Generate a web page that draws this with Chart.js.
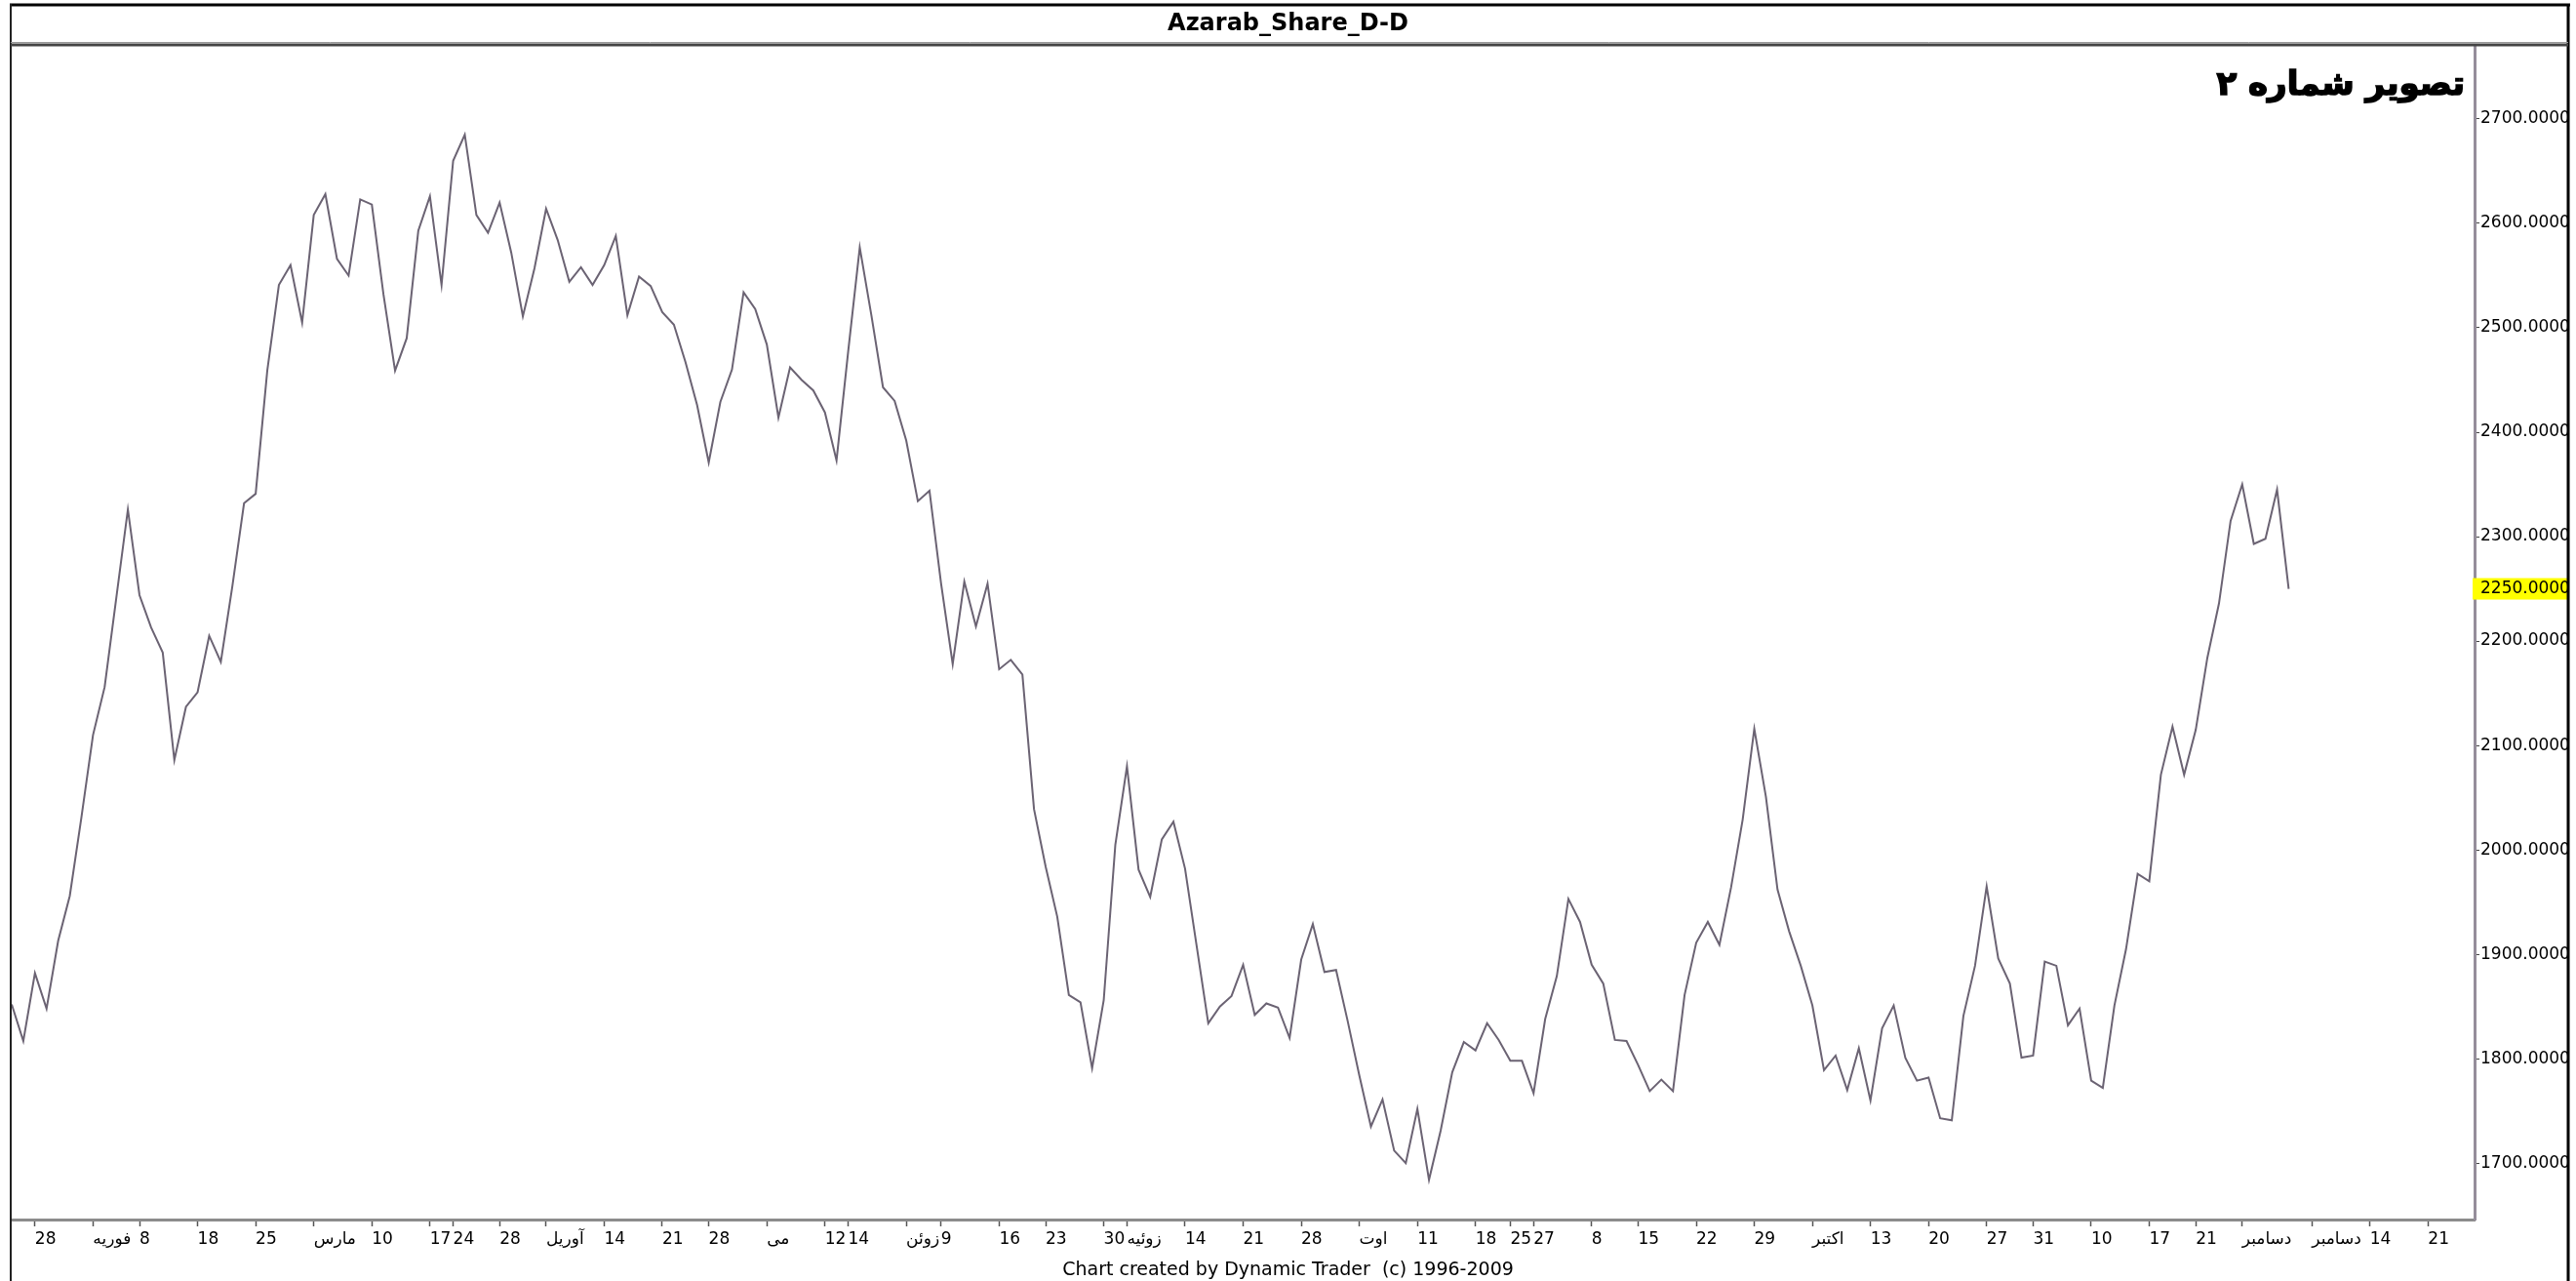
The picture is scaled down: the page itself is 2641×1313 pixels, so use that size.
<!DOCTYPE html>
<html><head><meta charset="utf-8">
<script src="https://cdn.jsdelivr.net/npm/chart.js@4.4.1/dist/chart.umd.min.js"></script>
<style>html,body{margin:0;padding:0;background:#fff;}#wrap{width:2641px;height:1313px;}</style>
</head><body><div id="wrap"><canvas id="c" width="2641" height="1313"></canvas></div>
<script>
const closes = [
1852,1817,1882,1848,1913,1956,2031,2110,2156,2241,
2326,2244,2213,2189,2086,2137,2151,2205,2180,2253,
2332,2341,2459,2541,2560,2505,2608,2628,2566,2550,
2623,2618,2532,2459,2490,2593,2626,2541,2660,2685,
2608,2591,2620,2572,2511,2557,2614,2584,2544,2558,
2541,2560,2588,2512,2549,2540,2515,2503,2467,2426,
2371,2429,2460,2534,2518,2484,2414,2462,2450,2440,
2419,2373,2477,2577,2512,2443,2430,2392,2334,2344,
2255,2178,2257,2214,2255,2173,2182,2168,2039,1984,
1936,1861,1854,1791,1856,2005,2080,1981,1955,2010,
2027,1982,1908,1834,1850,1860,1890,1842,1853,1849,
1820,1895,1929,1883,1885,1836,1784,1735,1761,1712,
1700,1752,1684,1731,1787,1816,1808,1834,1818,1798,
1798,1767,1838,1879,1953,1931,1890,1872,1818,1817,
1794,1769,1780,1769,1861,1911,1931,1909,1964,2029,
2116,2051,1962,1922,1889,1851,1789,1803,1770,1810,
1760,1829,1851,1801,1779,1782,1743,1741,1841,1889,
1965,1896,1872,1801,1803,1893,1889,1832,1848,1779,
1772,1851,1905,1977,1970,2072,2118,2072,2115,2184,
2236,2315,2350,2293,2298,2345,2250
];
const xTickPos = [2,7,11,16,21,26,31,36,38,42,46,51,56,60,65,70,72,77,80,85,89,94,96,101,106,111,116,121,126,129,131,136,140,145,150,155,160,165,170,174,179,184,188,192,198,203,208];
const xTickLabels = ['28','فوریه','8','18','25','مارس','10','17','24','28','آوریل','14','21','28','می','12','14','زوئن','9','16','23','30','زوئیه','14','21','28','اوت','11','18','25','27','8','15','22','29','اکتبر','13','20','27','31','10','17','21','دسامبر','دسامبر','14','21'];
const yTicks = [1700,1800,1900,2000,2100,2200,2300,2400,2500,2600,2700];
const chartTitle = 'Azarab_Share_D-D';
const footerText = 'Chart created by Dynamic Trader  (c) 1996-2009';
const captionText = 'تصویر شماره ۲';
const lastValue = closes[closes.length - 1];

const framePlugin = {
  id: 'frame',
  afterDraw(chart) {
    const ctx = chart.ctx;
    const ys = chart.scales.y;
    ctx.save();
    const py = ys.getPixelForValue(lastValue);
    ctx.fillStyle = '#ffff00';
    ctx.fillRect(ys.left - 2, py - 11, 2632 - ys.left + 2, 22);
    ctx.fillStyle = '#000';
    ctx.font = '17px "DejaVu Sans"';
    ctx.textBaseline = 'middle';
    ctx.textAlign = 'left';
    ctx.fillText(lastValue.toFixed(4), ys.left + 6, py);
    ctx.font = 'bold 34px "DejaVu Sans"';
    ctx.textAlign = 'right';
    ctx.direction = 'rtl';
    ctx.lineWidth = 1.6;
    ctx.strokeStyle = '#000';
    ctx.fillText(captionText, ys.left - 10, 88);
    ctx.strokeText(captionText, ys.left - 10, 88);
    ctx.direction = 'ltr';
    ctx.strokeStyle = '#000';
    ctx.lineWidth = 3;
    ctx.beginPath(); ctx.moveTo(10, 5); ctx.lineTo(2635, 5); ctx.stroke();
    ctx.beginPath(); ctx.moveTo(2633, 4); ctx.lineTo(2633, 1313); ctx.stroke();
    ctx.lineWidth = 2;
    ctx.strokeStyle = '#222';
    ctx.beginPath(); ctx.moveTo(11, 4); ctx.lineTo(11, 1313); ctx.stroke();
    ctx.strokeStyle = '#999';
    ctx.lineWidth = 1;
    ctx.beginPath(); ctx.moveTo(11, 43.5); ctx.lineTo(2633, 43.5); ctx.stroke();
    ctx.strokeStyle = '#444';
    ctx.lineWidth = 3;
    ctx.beginPath(); ctx.moveTo(11, 46); ctx.lineTo(2633, 46); ctx.stroke();
    ctx.restore();
  }
};

new Chart(document.getElementById('c'), {
  type: 'line',
  data: {
    datasets: [{
      data: closes.map((v, i) => ({x: i, y: v})),
      borderColor: '#6b6373',
      borderWidth: 2,
      pointRadius: 0,
      tension: 0,
      fill: false,
      yAxisID: 'y',
      xAxisID: 'x'
    }]
  },
  options: {
    responsive: false,
    animation: false,
    devicePixelRatio: 1,
    layout: {padding: 0},
    plugins: {
      legend: {display: false},
      tooltip: {enabled: false},
      title: {display: true, text: chartTitle, color: '#000',
        font: {family: '"DejaVu Sans"', size: 24, weight: 'bold', lineHeight: 1.2},
        padding: {top: 10.6, bottom: 7.6}},
      subtitle: {display: true, position: 'bottom', text: footerText, color: '#000',
        font: {family: '"DejaVu Sans"', size: 19, weight: 'normal', lineHeight: 1.2},
        padding: {top: 2, bottom: 0}}
    },
    scales: {
      x: {
        type: 'linear', min: 0, max: 212,
        afterBuildTicks: s => { s.ticks = xTickPos.map(v => ({value: v})); },
        afterFit: s => { s.height = 38.2; },
        grid: {display: true, drawOnChartArea: false, drawTicks: true, tickLength: 7, tickColor: '#555', tickWidth: 1.5},
        border: {display: true, color: '#8c8c8c', width: 3},
        ticks: {autoSkip: false, maxRotation: 0, minRotation: 0, align: 'start', padding: 3, color: '#000',
          font: {family: '"DejaVu Sans"', size: 17},
          callback: (v, i) => xTickLabels[i]}
      },
      y: {
        position: 'right', min: 1646, max: 2770,
        afterBuildTicks: s => { s.ticks = yTicks.map(v => ({value: v})); },
        afterFit: s => { s.width = 104; },
        grid: {display: true, drawOnChartArea: false, drawTicks: true, tickLength: 5, tickColor: '#444'},
        border: {display: true, color: '#958e9b', width: 3},
        ticks: {padding: 1, color: '#000', font: {family: '"DejaVu Sans"', size: 17},
          callback: v => Number(v).toFixed(4)}
      },
      yl: {
        position: 'left', display: true, min: 0, max: 1,
        afterFit: s => { s.width = 12; },
        ticks: {display: false},
        grid: {display: false},
        border: {display: false}
      }
    }
  },
  plugins: [framePlugin]
});
</script>
</body></html>
